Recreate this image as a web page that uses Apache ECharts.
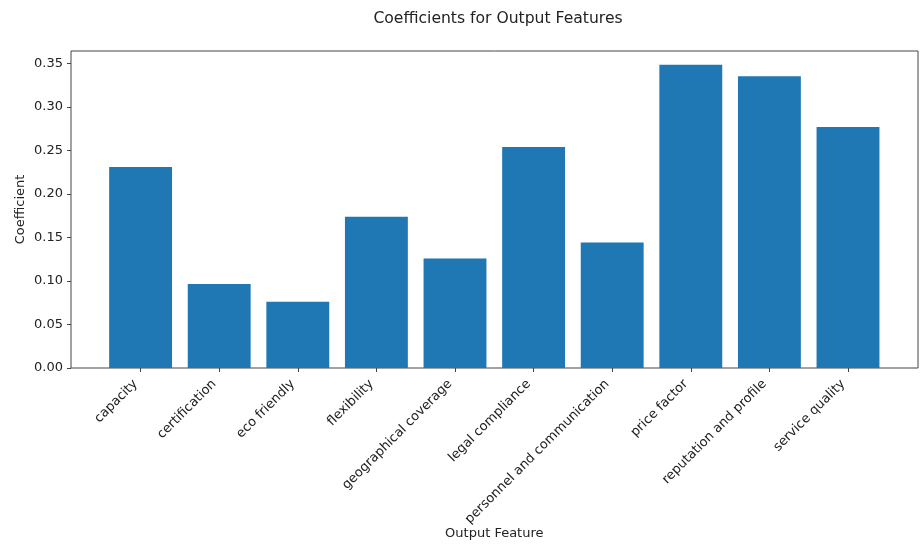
<!DOCTYPE html>
<html>
<head>
<meta charset="utf-8">
<script src="https://cdn.jsdelivr.net/npm/echarts@6/dist/echarts.min.js"></script>
<style>
  html, body { margin: 0; padding: 0; background: #fff; }
  #chart { width: 921px; height: 545px; }
</style>
</head>
<body>
<div id="chart"></div>
<script>
// Output features and their fitted coefficients
const features = [
  'capacity', 'certification', 'eco friendly', 'flexibility',
  'geographical coverage', 'legal compliance', 'personnel and communication',
  'price factor', 'reputation and profile', 'service quality'
];
const coefficients = [0.231, 0.0965, 0.0762, 0.1738, 0.126, 0.2542, 0.1444, 0.3488, 0.3354, 0.2772];
const yTicks = [0, 0.05, 0.10, 0.15, 0.20, 0.25, 0.30, 0.35];

const font = 'DejaVu Sans';
const textColor = '#222';

const chart = echarts.init(document.getElementById('chart'), null, { renderer: 'canvas' });
chart.setOption({
  animation: false,
  backgroundColor: '#fff',
  title: {
    text: 'Coefficients for Output Features',
    left: 493, top: 6, textAlign: 'center',
    textStyle: { fontFamily: font, fontSize: 15.6, fontWeight: 'normal', color: textColor }
  },
  grid: [
    // frame around the plotting area
    { left: 71, top: 51, width: 847, height: 317, show: true, borderColor: '#444', borderWidth: 1,
      backgroundColor: 'transparent', outerBoundsMode: 'none', containLabel: false },
    // inner grid holding the bars (side margins like the frame's padding)
    { left: 101.3, top: 51, width: 786, height: 317, outerBoundsMode: 'none', containLabel: false }
  ],
  xAxis: {
    type: 'category',
    gridIndex: 1,
    data: features,
    axisLine: { show: false },
    axisTick: { show: true, alignWithLabel: true, length: 4, lineStyle: { color: '#444' } },
    axisLabel: {
      rotate: 45, margin: 9, interval: 0, padding: [0, 7, 0, 0],
      fontFamily: font, fontSize: 13, color: textColor
    },
    name: 'Output Feature',
    nameLocation: 'middle',
    nameGap: 159,
    nameMoveOverlap: false,
    nameTextStyle: { fontFamily: font, fontSize: 13, color: textColor }
  },
  yAxis: {
    type: 'value',
    gridIndex: 1,
    min: 0, max: 0.3645, interval: 0.05,
    offset: 30.3,
    axisLine: { show: false },
    splitLine: { show: false },
    axisTick: { show: true, length: 4, lineStyle: { color: '#444' }, customValues: yTicks },
    axisLabel: {
      margin: 8, fontFamily: font, fontSize: 13, color: textColor,
      customValues: yTicks,
      formatter: v => v.toFixed(2)
    },
    name: 'Coefficient',
    nameLocation: 'middle',
    nameRotate: 90,
    nameGap: 44,
    nameMoveOverlap: false,
    nameTextStyle: { fontFamily: font, fontSize: 13, color: textColor }
  },
  series: [{
    type: 'bar',
    xAxisIndex: 0, yAxisIndex: 0,
    data: coefficients,
    barWidth: '80%',
    itemStyle: { color: '#1f77b4' }
  }]
});
</script>
</body>
</html>
